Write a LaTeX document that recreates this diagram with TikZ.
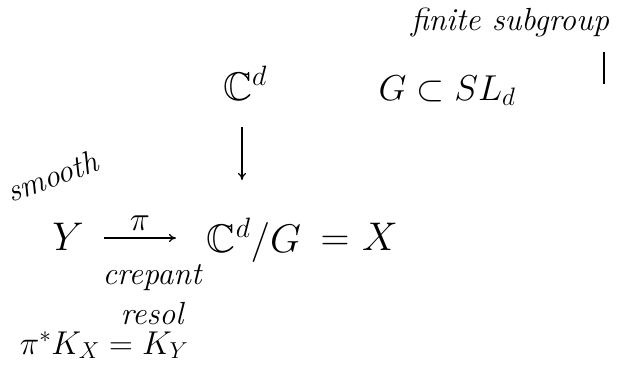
\RequirePackage{fix-cm}
\documentclass[tikz,border=0pt]{standalone}
\usepackage{amssymb}
\usetikzlibrary{arrows.meta}
\tikzset{
  hand/.style={font=\fontsize{32}{36}\selectfont\itshape, inner sep=0pt},
  mathbig/.style={font=\fontsize{40}{46}\selectfont, inner sep=0pt},
  mathmid/.style={font=\fontsize{36}{42}\selectfont, inner sep=0pt},
  arr/.style={-{To[length=7pt,width=8pt]}, line width=1.2pt},
}
\begin{document}
\begin{tikzpicture}[x=1pt,y=-1pt]
\useasboundingbox (0,0) rectangle (617,365);
\node[hand] (fs) at (510,22) {finite subgroup};
\coordinate (fstip) at (604,84);
\draw[line width=1.1pt] (604,52) -- (fstip);
\node[mathbig, anchor=base] (cd) at (245,100) {$\mathbb{C}^d$};
\node[mathmid, anchor=base] (g) at (447,100) {$G \subset SL_d$};
\node[hand, rotate=20] (sm) at (52,176) {smooth};
\node[mathbig, anchor=base] (y) at (68,250) {$Y$};
\node[mathbig, anchor=base] (q) at (254,252) {$\mathbb{C}^d/G$};
\node[mathbig, anchor=base] (eq) at (335,250) {$=$};
\node[mathbig, anchor=base] (x) at (380,250) {$X$};
\coordinate (vtop) at (242,127);
\coordinate (vbot) at (242,180);
\draw[arr] (vtop) -- (vbot);
\coordinate (hl) at (104,238);
\coordinate (hr) at (176,238);
\draw[arr] (hl) -- node[above=4pt, font=\fontsize{34}{40}\selectfont] (pi) {$\pi$} (hr);
\node[hand] (cr) at (152,278) {crepant};
\node[hand] (rs) at (152,314) {resol};
\node[font=\fontsize{33}{38}\selectfont, inner sep=0pt, anchor=base] (kk) at (104,354) {$\pi^*K_X = K_Y$};
\end{tikzpicture}
\end{document}
